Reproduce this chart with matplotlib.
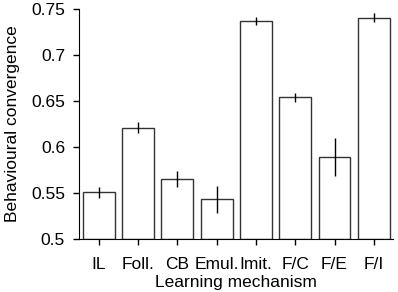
import numpy as np
import matplotlib
matplotlib.use("Agg")
import matplotlib.pyplot as plt

plt.rcParams['font.family'] = ['Liberation Sans', 'DejaVu Sans']

# values
mechanisms = ["IL", "Foll.", "CB", "Emul.", "Imit.", "F/C", "F/E", "F/I"]
convergence = [0.551, 0.621, 0.565, 0.543, 0.737, 0.654, 0.589, 0.7405]
errors = [0.006, 0.006, 0.009, 0.015, 0.004, 0.005, 0.021, 0.005]

fig = plt.figure(figsize=(3.98, 2.92), dpi=100)
ax = fig.add_axes([0.1985, 0.1815, 0.79, 0.7875])

x = np.arange(len(mechanisms))
ax.bar(x, np.array(convergence) - 0.5, bottom=0.5, width=0.81,
       color="white", edgecolor="#333333", linewidth=1.0)
ax.errorbar(x, convergence, yerr=errors, fmt="none", ecolor="black",
            elinewidth=1.0, capsize=0)

ax.set_ylim(0.5, 0.75)
ax.set_xlim(-0.505, 7.5)
ax.set_yticks([0.5, 0.55, 0.6, 0.65, 0.7, 0.75])
ax.set_yticklabels(["0.5", "0.55", "0.6", "0.65", "0.7", "0.75"])
ax.set_xticks(x)
ax.set_xticklabels(mechanisms)
ax.tick_params(labelsize=12.5, length=4, width=1)
ax.tick_params(axis="y", pad=6)
ax.tick_params(axis="x", pad=9)

ax.spines["top"].set_visible(False)
ax.spines["right"].set_visible(False)

ax.set_xlabel("Learning mechanism", fontsize=12.5, labelpad=2)
ax.set_ylabel("Behavioural convergence", fontsize=12.5, labelpad=8)

fig.savefig("out.png", dpi=100)
